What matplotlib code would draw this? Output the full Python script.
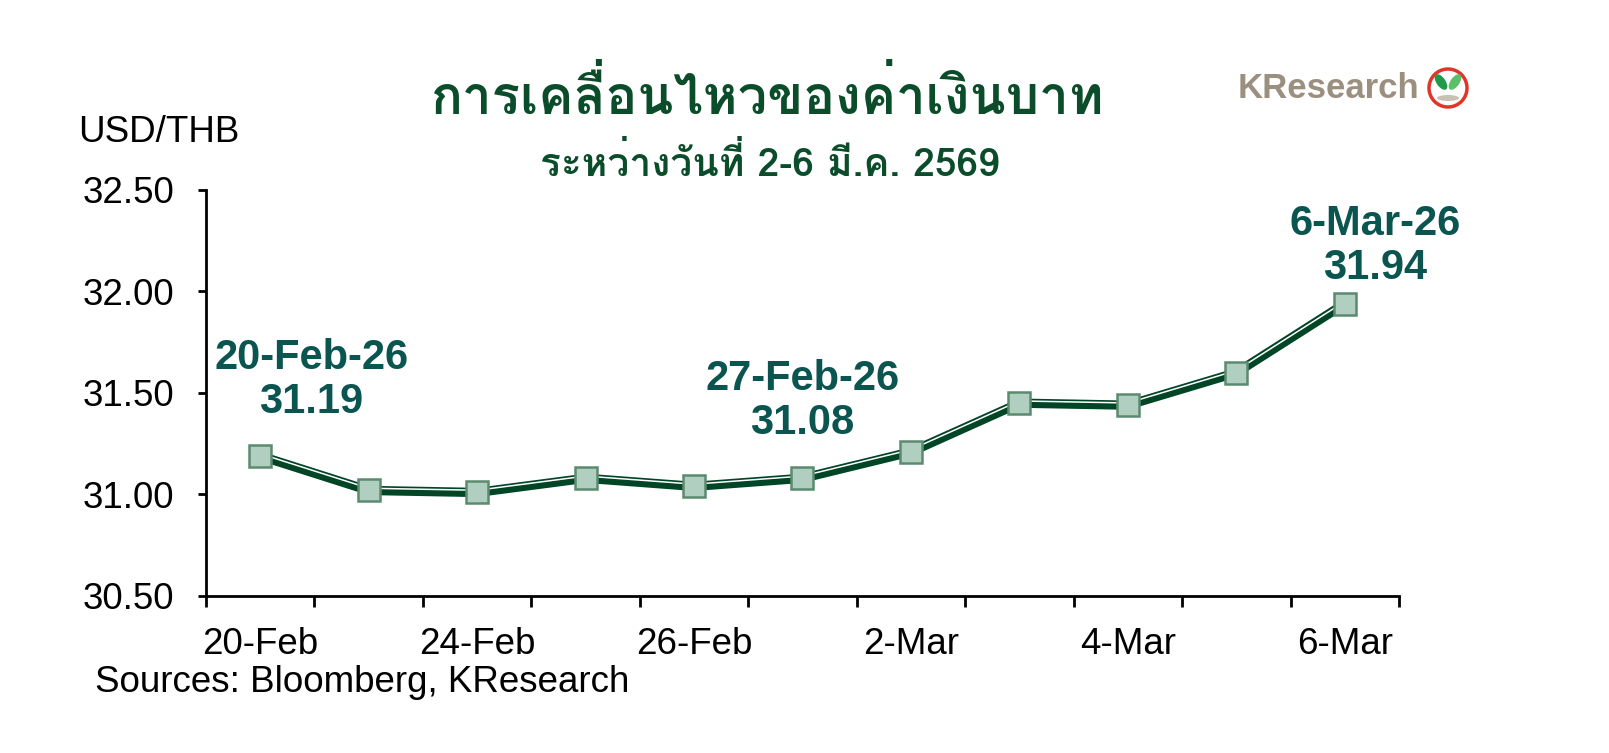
import matplotlib
matplotlib.use("Agg")
import matplotlib.pyplot as plt
from matplotlib import font_manager, transforms
from matplotlib.ft2font import FT2Font
from matplotlib.patches import Circle, Ellipse

# USD/THB daily closes, 20 Feb - 6 Mar 2026
dates = ["20-Feb", "23-Feb", "24-Feb", "25-Feb", "26-Feb", "27-Feb",
         "2-Mar", "3-Mar", "4-Mar", "5-Mar", "6-Mar"]
usd_thb = [31.19, 31.02, 31.01, 31.08, 31.04, 31.08,
           31.21, 31.45, 31.44, 31.60, 31.94]
tick_labels = ["20-Feb", "24-Feb", "26-Feb", "2-Mar", "4-Mar", "6-Mar"]
callout_idx = [0, 5, 10]
y_ticks = [30.50, 31.00, 31.50, 32.00, 32.50]

title = "การเคลื่อนไหวของค่าเงินบาท"
subtitle = "ระหว่างวันที่ 2-6 มี.ค. 2569"


def find_thai_font():
    # look for any installed font that has Thai glyphs, prefer bold faces
    found = []
    for path in font_manager.findSystemFonts():
        try:
            if 0x0E01 in FT2Font(path).get_charmap():
                found.append(path)
        except Exception:
            pass
    found.sort(key=lambda p: (0 if "bold" in p.lower() else 1, p))
    return found[0] if found else None


def main() -> None:
    plt.rcParams["font.family"] = ["Liberation Sans", "DejaVu Sans"]

    fig = plt.figure(figsize=(16.09, 7.53), dpi=100)
    ax = fig.add_axes([0.128, 0.2085, 0.7415, 0.5392])

    x = list(range(len(dates)))
    line_col = "#004526"
    ax.plot(x, usd_thb, color=line_col, lw=6.7, solid_joinstyle="miter", zorder=2)
    off = transforms.offset_copy(ax.transData, fig=fig, x=0, y=2.2, units="dots")
    ax.plot(x, usd_thb, color="white", lw=1.1, transform=off, zorder=3)
    ax.plot(x, usd_thb, ls="none", marker="s", ms=16, mfc="#b0cfc0",
            mec="#5b8a6f", mew=1.8, zorder=4)

    ax.set_xlim(-0.5, len(dates) - 0.5)
    ax.set_ylim(30.5, 32.5)
    ax.set_yticks(y_ticks)
    ax.set_yticklabels([f"{v:.2f}" for v in y_ticks])
    ax.set_xticks([dates.index(d) for d in tick_labels])
    ax.set_xticklabels(tick_labels)
    ax.set_xticks([i - 0.5 for i in range(len(dates) + 1)], minor=True)
    ax.tick_params(axis="x", which="major", length=0, pad=22, labelsize=26.5)
    ax.tick_params(axis="x", which="minor", length=8, width=2, direction="out")
    ax.tick_params(axis="y", length=6, width=2, pad=17, labelsize=26.5)
    for s in ["top", "right"]:
        ax.spines[s].set_visible(False)
    for s in ["left", "bottom"]:
        ax.spines[s].set_linewidth(2)

    offsets = {0: (51, 76), 5: (0, 77), 10: (30, 58)}
    for i in callout_idx:
        ax.annotate(f"{dates[i]}-26\n{usd_thb[i]:.2f}", xy=(i, usd_thb[i]),
                    xytext=offsets[i], textcoords="offset pixels",
                    ha="center", va="center", fontsize=30, fontweight="bold",
                    color="#0b5550", linespacing=1.12)

    fig.text(0.0485, 1 - 132 / 753, "USD/THB", fontsize=26.5, va="center", ha="left")
    fig.text(0.059, 1 - 682 / 753, "Sources: Bloomberg, KResearch",
             fontsize=26.5, va="center", ha="left")

    thai_path = find_thai_font()
    kw = dict(color="#0b4d2a", ha="center", va="center", fontweight="bold")
    if thai_path:
        kw["fontproperties"] = font_manager.FontProperties(fname=thai_path)
    fig.text(768 / 1609, 1 - 98 / 753, title, fontsize=38, **kw)
    fig.text(770 / 1609, 1 - 164 / 753, subtitle, fontsize=28, **kw)

    # KResearch logo
    fig.text(1238 / 1609, 1 - 88 / 753, "KResearch", fontsize=25, fontweight="bold",
             color="#9b9080", ha="left", va="center")
    fig.patches.append(Circle((1448, 753 - 88), 19, transform=None, fill=False,
                              ec="#e0362a", lw=2.5))
    fig.patches.append(Ellipse((1441, 753 - 82), 9, 18, angle=35, transform=None,
                               fc="#1f9a4a", ec="none"))
    fig.patches.append(Ellipse((1455, 753 - 82), 9, 18, angle=-35, transform=None,
                               fc="#5cc06a", ec="none"))
    fig.patches.append(Ellipse((1448, 753 - 98), 22, 6, transform=None,
                               fc="#c9c0b4", ec="none"))

    fig.savefig("out.png", dpi=100)
    print("Saved: out.png")


if __name__ == "__main__":
    main()
